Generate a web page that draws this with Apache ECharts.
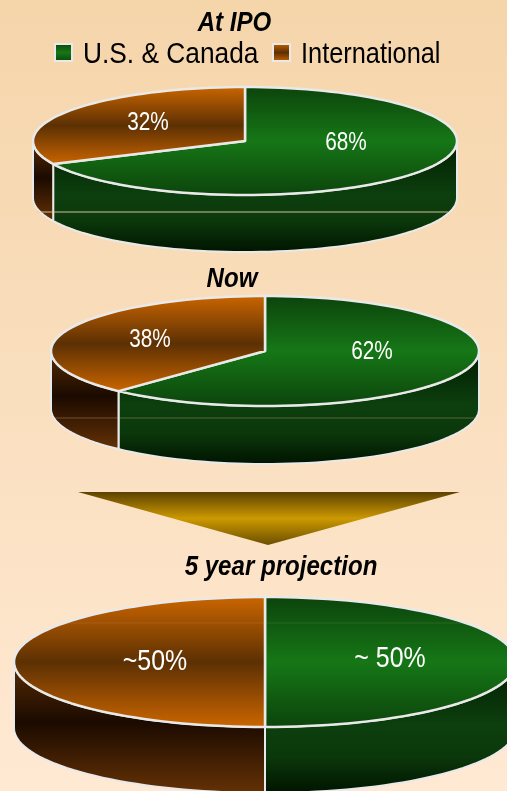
<!DOCTYPE html>
<html>
<head>
<meta charset="utf-8">
<style>html,body{margin:0;padding:0;background:#f9dfc0}#chart{width:507px;height:791px}</style>
<script src="https://cdn.jsdelivr.net/npm/echarts@6/dist/echarts.min.js"></script>
</head>
<body>
<div id="chart"></div>
<script>
// Revenue split by region, shown as three tilted pies
const periods = ['At IPO', 'Now', '5 year projection'];
const regions = ['U.S. & Canada', 'International'];
const usCanada = [68, 62, 50];
const international = [32, 38, 50];
const usCanadaLabels = ['68%', '62%', '~ 50%'];
const internationalLabels = ['32%', '38%', '~50%'];

// Placement of each disc on the page
const discs = [
  { cx: 245, cy: 141, rx: 212, ry: 54, depth: 57, font: 25 },
  { cx: 265, cy: 351, rx: 214, ry: 55, depth: 58, font: 25 },
  { cx: 265, cy: 662, rx: 251, ry: 65, depth: 66, font: 30 }
];
const titleBoxes = [
  { x: 234.5, y: 23.5 }, { x: 232, y: 279 }, { x: 281, y: 567 }
];
const legendBoxes = [
  { square: 55, text: 83, squeeze: 0.907 }, { square: 273, text: 301, squeeze: 0.874 }
];
const usLabelOffsets = [[101, 2], [107, 1], [125, -3]];
const intlLabelOffsets = [[-97, -18], [-115, -11], [-110, 0]];
const faintSeams = [
  { y: 212, x1: 36, x2: 448, opacity: 0.9 },
  { y: 418, x1: 55, x2: 475, opacity: 0.3 },
  { y: 623, x1: 60, x2: 470, opacity: 0.12 }
];

const FONT = '"Liberation Sans", Arial, sans-serif';
const EDGE = '#e9e9e9';
const grad = (stops) => new echarts.graphic.LinearGradient(0, 0, 0, 1,
  stops.map(([offset, color]) => ({ offset, color })));

const greenTop = [[0, '#0c430c'], [0.5, '#167716'], [1, '#0c430c']];
const greenSide = [[0, '#001c00'], [0.48, '#0d3f0e'], [0.72, '#0b380b'], [1, '#001300']];
const brownTop = [[0, '#cc6600'], [0.5, '#5c3003'], [1, '#cc6600']];
const brownSide = [[0, '#5a2e04'], [0.46, '#1b0a00'], [1, '#653205']];

function point(d, share, drop) {
  const t = share / 100 * Math.PI * 2;
  return [d.cx + d.rx * Math.sin(t), d.cy - d.ry * Math.cos(t) + (drop || 0)];
}

function arc(d, from, to, drop) {
  const pts = [];
  const steps = Math.max(2, Math.ceil(Math.abs(to - from) * 1.5));
  for (let i = 0; i <= steps; i++) pts.push(point(d, from + (to - from) * i / steps, drop));
  return pts;
}

// One wedge: the rim facing the viewer first, then the top face over it
function wedgeRenderer(topStops, sideStops, labels, offsets) {
  return function (params, api) {
    const idx = api.value(0);
    const start = api.value(1);
    const end = api.value(2);
    const d = discs[idx];
    const children = [];

    const sideFrom = Math.max(start, 25);
    const sideTo = Math.min(end, 75);
    if (sideTo > sideFrom) {
      const rim = arc(d, sideFrom, sideTo, 0).concat(arc(d, sideTo, sideFrom, d.depth));
      children.push({
        type: 'polygon',
        shape: { points: rim },
        style: { fill: grad(sideStops), stroke: EDGE, lineWidth: 2, lineJoin: 'round' }
      });
    }

    const face = [[d.cx, d.cy]].concat(arc(d, start, end, 0));
    children.push({
      type: 'polygon',
      shape: { points: face },
      style: { fill: grad(topStops), stroke: EDGE, lineWidth: 2.5, lineJoin: 'round' }
    });

    const off = offsets[idx];
    children.push({
      type: 'text',
      x: d.cx + off[0],
      y: d.cy + off[1],
      scaleX: 0.83,
      style: {
        x: 0, y: 0,
        text: labels[idx],
        fill: '#ffffff',
        font: d.font + 'px ' + FONT,
        align: 'center', verticalAlign: 'middle'
      },
      z2: 10
    });
    return { type: 'group', children };
  };
}

// Condensed captions: the available sans is squeezed horizontally
const titleTexts = periods.map((text, i) => ({
  type: 'text', silent: true,
  x: titleBoxes[i].x, y: titleBoxes[i].y, scaleX: 0.86,
  style: {
    x: 0, y: 0, text, fill: '#000000',
    font: 'italic bold 28px ' + FONT,
    align: 'center', verticalAlign: 'middle'
  }
}));

const legendItems = regions.flatMap((name, i) => [
  {
    type: 'rect', silent: true,
    shape: { x: legendBoxes[i].square, y: 44, width: 17, height: 17 },
    style: { fill: grad(i === 0 ? greenTop : brownTop), stroke: EDGE, lineWidth: 2 }
  },
  {
    type: 'text', silent: true,
    x: legendBoxes[i].text, y: 54.5, scaleX: legendBoxes[i].squeeze,
    style: {
      x: 0, y: 0, text: name, fill: '#000000',
      font: '29px ' + FONT, align: 'left', verticalAlign: 'middle'
    }
  }
]);

const seamLines = faintSeams.map((s) => ({
  type: 'line', silent: true, z: 20,
  shape: { x1: s.x1, y1: s.y, x2: s.x2, y2: s.y },
  style: { stroke: '#e8cfa8', lineWidth: 1, opacity: s.opacity }
}));

const usData = usCanada.map((v, i) => [i, 0, v]);
const intlData = international.map((v, i) => [i, usCanada[i], usCanada[i] + v]);

const chart = echarts.init(document.getElementById('chart'), null, { renderer: 'canvas' });
chart.setOption({
  animation: false,
  backgroundColor: {
    type: 'linear', x: 0, y: 0, x2: 0, y2: 1,
    colorStops: [{ offset: 0, color: '#f5d5aa' }, { offset: 1, color: '#ffe9d3' }]
  },
  graphic: [
    ...titleTexts,
    ...legendItems,
    {
      type: 'polygon', silent: true,
      shape: { points: [[78, 492], [460, 492], [268, 545]] },
      style: { fill: grad([[0, '#5c4200'], [0.5, '#cc9900'], [1, '#6b4e00']]) }
    },
    ...seamLines
  ],
  series: [
    {
      name: regions[0], type: 'custom', coordinateSystem: 'none',
      itemStyle: { color: '#167716' },
      renderItem: wedgeRenderer(greenTop, greenSide, usCanadaLabels, usLabelOffsets),
      data: usData
    },
    {
      name: regions[1], type: 'custom', coordinateSystem: 'none',
      itemStyle: { color: '#cc6600' },
      renderItem: wedgeRenderer(brownTop, brownSide, internationalLabels, intlLabelOffsets),
      data: intlData
    }
  ]
});
</script>
</body>
</html>
